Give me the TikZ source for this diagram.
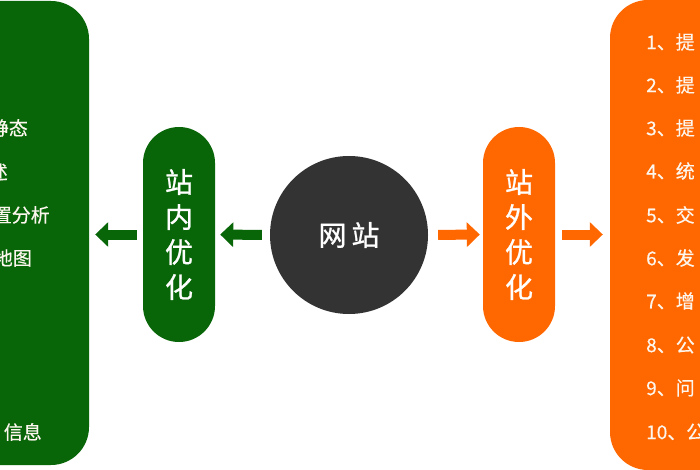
\documentclass[tikz,border=0pt]{standalone}
\usepackage{fontspec}
\setmainfont{Noto Sans CJK SC}
\newfontfamily\medfont{Noto Sans CJK SC}[FakeBold=0.9]
\newfontfamily\itemfont{Noto Sans CJK SC}[FakeBold=0.4]
\usetikzlibrary{arrows.meta}
\definecolor{seogreen}{RGB}{8,102,8}
\definecolor{seoorange}{RGB}{255,104,0}
\definecolor{seodark}{RGB}{51,51,51}
\definecolor{paneltext}{RGB}{252,246,238}
\begin{document}
\begin{tikzpicture}[x=1pt,y=-1pt,
  panel/.style={rectangle,rounded corners=38pt,inner sep=0pt},
  pill/.style={rectangle,rounded corners=36pt,minimum width=72pt,minimum height=215pt,inner sep=0pt,
    text=white,align=center,font=\medfont\fontsize{28}{35}\selectfont},
  item/.style={inner sep=0pt,text=paneltext,font=\itemfont\fontsize{19}{19}\selectfont},
  garrow/.style={line width=10pt,seogreen,-{Triangle[width=24pt,length=13pt]}},
  oarrow/.style={line width=10pt,seoorange,-{Triangle[width=24pt,length=13pt]}}]
\useasboundingbox (0,0) rectangle (700,470);
\clip (0,0) rectangle (700,470);
\fill[white] (0,0) rectangle (700,470);
% panels
\node[panel,fill=seogreen,minimum width=139pt,minimum height=464pt] (lp) at (19.5,233) {};
\node[panel,fill=seoorange,minimum width=150pt,minimum height=470pt] (rp) at (685,235) {};
% left items
\node[item,anchor=east] (l1) at (28,128) {静态};
\node[item,anchor=east] (l2) at (8,172) {述};
\node[item,anchor=east] (l3) at (50,215) {置分析};
\node[item,anchor=east] (l4) at (32,258) {地图};
\node[item,anchor=east] (l5) at (42,432) {信息};
% right items
\node[item,anchor=west] (r1) at (646,42) {1、提};
\node[item,anchor=west] (r2) at (646,85) {2、提};
\node[item,anchor=west] (r3) at (646,128) {3、提};
\node[item,anchor=west] (r4) at (646,171) {4、统};
\node[item,anchor=west] (r5) at (646,215) {5、交};
\node[item,anchor=west] (r6) at (646,258) {6、发};
\node[item,anchor=west] (r7) at (646,301) {7、增};
\node[item,anchor=west] (r8) at (646,345) {8、公};
\node[item,anchor=west] (r9) at (646,388) {9、问};
\node[item,anchor=west] (r10) at (646,432) {10、公};
% center
\node[circle,fill=seodark,minimum size=158pt,inner sep=0pt,text=white,
  font=\medfont\fontsize{28}{28}\selectfont] (web) at (349,235) {网\hspace{5pt}站};
\node[pill,fill=seogreen] (inner) at (179,234.5) {站\\内\\优\\化};
\node[pill,fill=seoorange] (outer) at (519,234.5) {站\\外\\优\\化};
% arrows
\draw[garrow,shorten <=8pt,shorten >=5pt] (web.west) -- (inner.east);
\draw[garrow,shorten <=6pt,shorten >=6pt] (inner.west) -- (lp.east |- inner.west);
\draw[oarrow,shorten <=10pt,shorten >=3pt] (web.east) -- (outer.west);
\draw[oarrow,shorten <=7pt,shorten >=7pt] (outer.east) -- (rp.west |- outer.east);
\end{tikzpicture}
\end{document}
